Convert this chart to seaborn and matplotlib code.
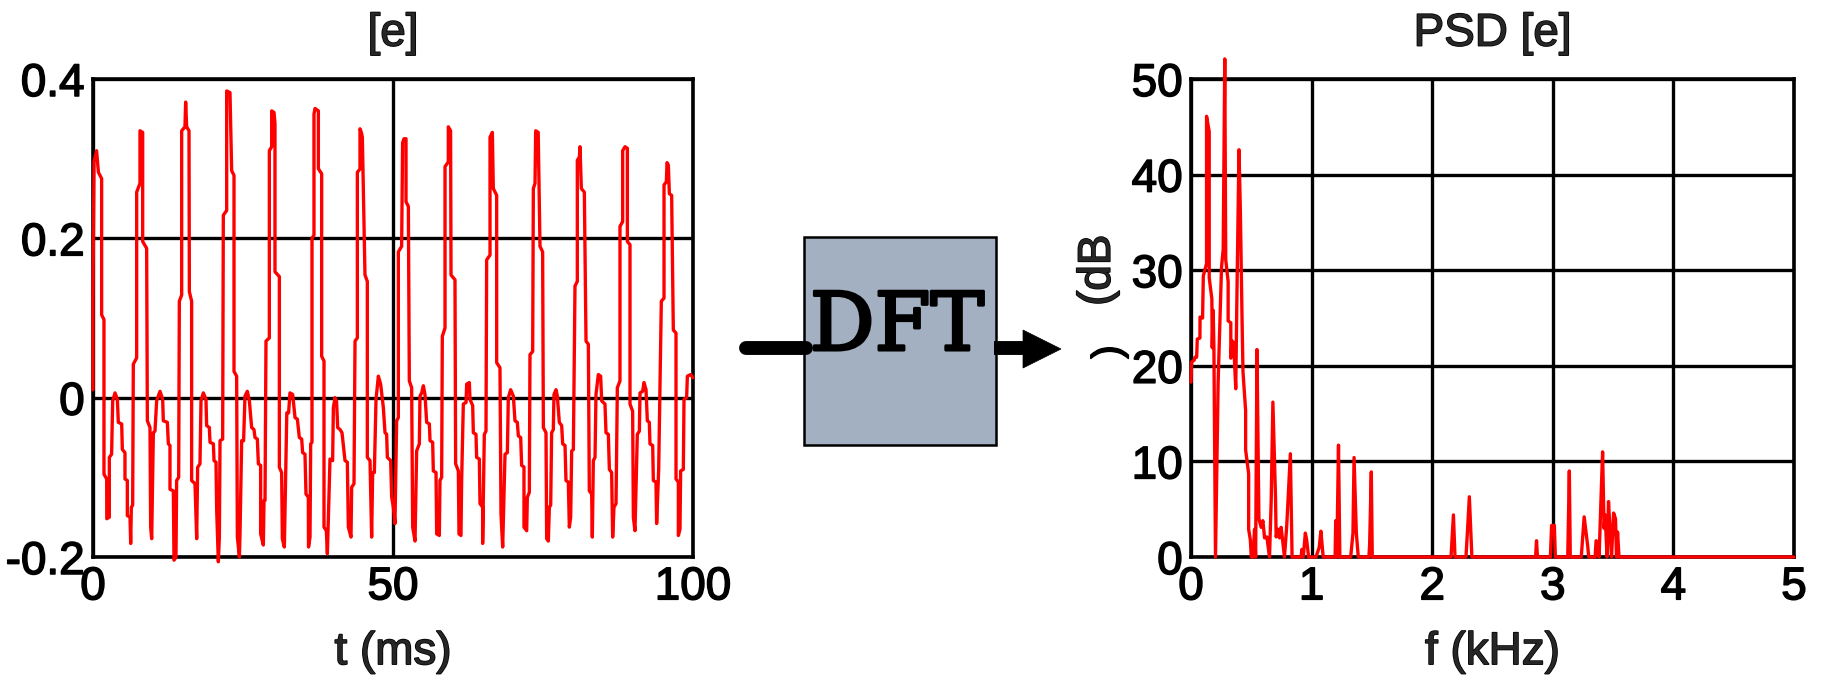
import matplotlib
matplotlib.use("Agg")
import matplotlib.pyplot as plt
import matplotlib.patheffects as pe
from matplotlib.patches import Rectangle, Polygon
import seaborn as sns
import pandas as pd

# ---------------- data ----------------
# time-domain vowel waveform [e]
t_ms = [
    0.0, 0.0, 0.17, 0.6, 0.9, 1.44, 1.44, 1.83, 1.83, 2.28, 2.3, 2.72, 2.72, 3.1, 3.28, 3.67, 4.06, 4.22,
    4.78, 4.89, 5.33, 5.33, 5.72, 5.72, 6.17, 6.28, 6.39, 6.61,
    6.72, 7.28, 7.28, 7.83, 7.83, 8.28, 8.28, 8.94, 9.06, 9.5, 9.61, 9.78, 10.06, 10.33, 10.61, 11.17,
    11.61, 11.72, 12.39, 12.56, 12.83, 12.83, 13.39, 13.5, 13.83, 13.94, 14.28,
    14.39, 14.78, 14.78, 15.33, 15.44, 15.61, 16.0, 16.06, 16.44, 16.44, 17.0, 17.28, 17.44, 17.83, 18.0,
    18.39, 18.83, 18.94, 19.39, 19.5, 20.06, 20.17, 20.5, 20.61, 20.89, 21.06, 21.17, 21.61,
    21.72, 22.28, 22.28, 22.83, 23.11, 23.5, 23.5, 23.94, 24.06, 24.4, 24.5, 24.78, 25.1, 25.33, 25.72,
    26.06, 26.44, 26.83, 27.0, 27.39, 27.56, 27.94, 27.94, 28.39, 28.5, 28.67,
    28.83, 29.39, 29.39, 29.78, 29.78, 30.17, 30.33, 30.33, 31.06, 31.06, 31.44, 31.56, 31.89, 32.3, 32.6,
    32.83, 33.28, 33.67, 34.06, 34.39, 34.78, 34.94, 35.33, 35.5, 35.89, 35.92, 36.17,
    36.28, 36.5, 36.5, 36.83, 36.83, 37.0, 37.56, 37.56, 38.11, 38.11, 38.5, 38.5, 38.89, 39.06, 39.5,
    39.94, 40.06, 40.33, 40.6, 40.78, 41.17, 41.5, 42.0, 42.39, 42.56, 43.0, 43.11, 43.5,
    43.67, 44.06, 44.06, 44.5, 44.5, 44.72, 44.89, 45.33, 45.72, 45.72, 46.17, 46.44, 46.61, 46.89, 47.17,
    47.56, 47.94, 48.39, 48.67, 48.94, 49.06, 49.61, 49.78, 50.06, 50.33,
    50.61, 50.89, 50.89, 51.44, 51.6, 51.83, 52.17, 52.17, 52.56, 52.72, 53.11, 53.28, 53.67, 53.94, 54.39,
    54.5, 54.78, 55.06, 55.33, 55.61, 56.06, 56.17, 56.61, 56.72, 57.17, 57.28, 57.72, 57.83, 58.11,
    58.22, 58.67, 58.67, 59.22, 59.22, 59.6, 59.67, 60.33, 60.44, 60.89, 61.0, 61.33, 61.44, 61.72, 62.17,
    62.28, 62.72, 62.83, 63.28, 63.39, 63.83, 63.94, 64.39, 64.5, 64.94, 64.94, 65.22, 65.5,
    65.61, 66.17, 66.17, 66.56, 66.72, 67.28, 67.28, 67.83, 68.0, 68.28, 68.67, 69.06, 69.22, 69.61, 70.06,
    70.33, 70.72, 70.89, 71.28, 71.44, 71.83, 71.83, 72.28, 72.39, 72.72,
    72.83, 73.28, 73.39, 73.67, 73.78, 74.2, 74.5, 74.94, 75.06, 75.5, 75.61, 75.89, 76.06, 76.28, 76.44,
    76.72, 76.83, 77.17, 77.39, 77.72, 78.11, 78.28, 78.67, 78.83, 79.22, 79.39, 79.61, 79.78, 80.06,
    80.33, 80.72, 80.72, 81.06, 81.17, 81.39, 81.89, 82.17, 82.56, 82.72, 83.11, 83.22, 83.39, 83.67, 83.83,
    84.22, 84.61, 84.78, 85.33, 85.5, 85.89, 86.06, 86.44, 86.61, 86.83, 87.17,
    87.39, 87.83, 87.83, 88.28, 88.28, 88.67, 89.06, 89.06, 89.5, 89.5, 89.94, 90.06, 90.33, 90.72, 91.06,
    91.17, 91.61, 91.83, 92.17, 92.39, 92.72, 92.83, 93.28, 93.39, 93.83, 93.94, 94.28,
    94.72, 95.17, 95.17, 95.56, 95.67, 95.89, 96.06, 96.44, 96.72, 97.17, 97.17, 97.56, 97.56, 97.83, 97.94,
    98.39, 98.5, 98.94, 99.06, 99.61, 100.0,
]
e_amp = [
    0.01, 0.133, 0.296, 0.31, 0.283, 0.275, 0.104, 0.098, -0.096, -0.102, -0.152, -0.15, -0.075, -0.071, -0.004, 0.006, -0.002, -0.031,
    -0.033, -0.065, -0.069, -0.102, -0.104, -0.148, -0.15, -0.183, -0.1375, -0.135,
    0.042, 0.05, 0.258, 0.269, 0.335, 0.333, 0.196, 0.1875, -0.029, -0.0375, -0.1625, -0.177, -0.044, -0.042, -0.004, 0.008,
    -0.002, -0.029, -0.031, -0.058, -0.06, -0.115, -0.117, -0.204, -0.2, -0.104, -0.1,
    0.121, 0.129, 0.335, 0.34, 0.371, 0.34, 0.335, 0.133, 0.121, -0.104, -0.108, -0.177, -0.0875, -0.083, -0.004,
    0.006, -0.002, -0.035, -0.0375, -0.056, -0.058, -0.079, -0.081, -0.14, -0.206, -0.175, -0.054, -0.052,
    0.229, 0.235, 0.385, 0.383, 0.285, 0.279, 0.033, 0.027, -0.175, -0.2, -0.171, -0.054, -0.054, 0.002, 0.008,
    -0.004, -0.0375, -0.04, -0.05, -0.052, -0.083, -0.085, -0.171, -0.185, -0.129, -0.129,
    0.071, 0.075, 0.31, 0.315, 0.36, 0.358, 0.344, 0.158, 0.152, -0.0875, -0.094, -0.177, -0.1875, -0.019, -0.019,
    0.006, 0.004, -0.025, -0.027, -0.05, -0.052, -0.069, -0.071, -0.121, -0.125, -0.1875, -0.175,
    -0.058, -0.056, 0.2, 0.204, 0.356, 0.363, 0.36, 0.2875, 0.281, 0.052, 0.046, -0.1625, -0.167, -0.196, -0.077,
    -0.079, -0.0125, 0.0, -0.005, -0.0375, -0.04, -0.044, -0.079, -0.081, -0.1625, -0.175, -0.1125, -0.108,
    0.071, 0.075, 0.283, 0.287, 0.3375, 0.333, 0.327, 0.154, 0.146, -0.075, -0.079, -0.175, -0.094, -0.094, -0.002,
    0.027, 0.017, -0.0125, -0.044, -0.046, -0.075, -0.079, -0.125, -0.1375, -0.158,
    -0.029, -0.025, 0.183, 0.19, 0.32, 0.325, 0.325, 0.246, 0.24, 0.021, 0.0125, -0.1625, -0.18, -0.067, -0.058,
    0.002, 0.006, 0.015, 0.004, -0.031, -0.033, -0.054, -0.056, -0.092, -0.094, -0.171, -0.173, -0.104, -0.1,
    0.077, 0.0875, 0.29, 0.296, 0.34, 0.335, 0.154, 0.148, -0.083, -0.092, -0.171, -0.173, -0.104, -0.008, -0.006,
    0.017, 0.019, -0.002, -0.01, -0.044, -0.046, -0.075, -0.077, -0.133, -0.1375, -0.183, -0.046, -0.042,
    0.173, 0.179, 0.327, 0.333, 0.2625, 0.254, 0.044, 0.0375, -0.146, -0.1875, -0.071, -0.069, 0.0, 0.01, 0.002,
    -0.029, -0.031, -0.048, -0.05, -0.085, -0.087, -0.1625, -0.167, -0.125, -0.119,
    0.054, 0.058, 0.2625, 0.269, 0.335, 0.333, 0.19, 0.183, -0.0375, -0.044, -0.177, -0.18, -0.1375, -0.135, -0.044,
    -0.04, 0.004, 0.01, 0.002, -0.031, -0.035, -0.058, -0.06, -0.104, -0.106, -0.1625, -0.15, -0.067, -0.065,
    0.14, 0.146, 0.298, 0.302, 0.315, 0.2625, 0.258, 0.071, 0.067, -0.117, -0.121, -0.175, -0.079, -0.075, 0.004,
    0.029, 0.027, -0.004, -0.008, -0.044, -0.046, -0.09, -0.094, -0.175, -0.1375, -0.133,
    0.0125, 0.021, 0.215, 0.221, 0.31, 0.315, 0.313, 0.196, 0.192, -0.008, -0.017, -0.15, -0.167, -0.046, -0.042,
    0.006, 0.008, 0.019, 0.01, -0.029, -0.031, -0.058, -0.06, -0.104, -0.106, -0.158, -0.09,
    0.121, 0.125, 0.267, 0.271, 0.295, 0.292, 0.256, 0.254, 0.085, 0.081, -0.102, -0.106, -0.173, -0.165, -0.092,
    -0.09, -0.002, 0.0, 0.027, 0.029, 0.025,
]

# power spectral density of [e]
f_khz = [
    0, 0.005, 0.027, 0.033, 0.047, 0.052, 0.074, 0.075, 0.096, 0.102,
    0.129, 0.129, 0.151, 0.151, 0.173, 0.176, 0.184, 0.19, 0.203, 0.225,
    0.253, 0.267, 0.28, 0.288, 0.308, 0.308, 0.33, 0.33, 0.341, 0.354,
    0.371, 0.382, 0.398, 0.409, 0.423, 0.431, 0.453, 0.453, 0.478, 0.478,
    0.492, 0.5, 0.514, 0.527, 0.536, 0.547, 0.563, 0.582, 0.596, 0.61,
    0.629, 0.651, 0.665, 0.679, 0.701, 0.706, 0.72, 0.734, 0.747, 0.761,
    0.775, 0.794, 0.824, 0.838, 0.912, 0.92, 0.931, 0.948, 0.959, 0.975,
    1.036, 1.063, 1.077, 1.096, 1.195, 1.2, 1.209, 1.223, 1.234, 1.324,
    1.343, 1.352, 1.371, 1.387, 1.475, 1.481, 1.495, 1.503, 2.156, 2.176,
    2.189, 2.28, 2.292, 2.308, 2.329, 2.857, 2.865, 2.873, 2.98, 2.99,
    3.013, 3.021, 3.124, 3.137, 3.145, 3.236, 3.26, 3.289, 3.298, 3.351,
    3.359, 3.38, 3.384, 3.40, 3.413, 3.425, 3.434, 3.45, 3.462, 3.475,
    3.487, 3.504, 3.52, 3.528, 3.537, 3.549, 5.0,
]
psd_db = [
    18.3, 20.4, 20.6, 20.9, 20.9, 22.8, 22.9, 25.1, 25.0, 29.4,
    30.7, 46.1, 44.5, 29.2, 27.0, 21.9, 25.8, 21.8, 0, 18.3,
    30.3, 32.2, 52.1, 31.1, 28.8, 24.7, 24.5, 20.8, 22.6, 22.4,
    17.6, 28.5, 42.6, 36.4, 25.1, 19.4, 15.3, 11.2, 8.7, 2.9,
    1.8, 0, 0, 2.9, 0, 21.7, 4.0, 3.1, 3.8, 2.0,
    2.1, 0, 5.9, 16.2, 6.1, 2.1, 2.9, 2.0, 3.1, 1.6,
    0, 3.3, 10.8, 0, 0, 0.8, 0, 2.5, 1.8, 0,
    0, 1.0, 2.7, 0, 0, 3.8, 0, 11.7, 0, 0,
    2.5, 10.4, 2.5, 0, 0, 1.2, 8.9, 0, 0, 4.4,
    0, 0, 2.6, 6.3, 0, 0, 1.7, 0, 0, 3.3,
    3.3, 0, 0, 9.0, 0, 0, 4.2, 1.2, 0, 0,
    1.7, 1.5, 0, 6.2, 11.0, 3.0, 4.4, 0, 5.8, 2.6,
    0, 4.6, 4.0, 0, 2.6, 0, 0,
]

wave_xticks = [0, 50, 100]
wave_xticklabels = ["0", "50", "100"]
wave_yticks = [-0.2, 0, 0.2, 0.4]
wave_yticklabels = ["-0.2", "0", "0.2", "0.4"]
psd_xticks = [0, 1, 2, 3, 4, 5]
psd_yticks = [0, 10, 20, 30, 40, 50]

wave_df = pd.DataFrame({"t": t_ms, "e": e_amp})
psd_df = pd.DataFrame({"f": f_khz, "db": psd_db})

# ---------------- style ----------------
sns.set_style("white")
plt.rcParams["font.family"] = ["Liberation Sans", "DejaVu Sans"]
plt.rcParams["axes.unicode_minus"] = False

FS = 33
RED = "#ff0000"
HEAVY = [pe.withStroke(linewidth=1.1, foreground="black")]

fig = plt.figure(figsize=(18.27, 6.78), dpi=100)
ax1 = fig.add_axes([93 / 1827, 1 - 557 / 678, 600 / 1827, 478 / 678])
ax2 = fig.add_axes([1191 / 1827, 1 - 557 / 678, 603 / 1827, 478 / 678])

sns.lineplot(data=wave_df, x="t", y="e", ax=ax1, color=RED, lw=2.4,
             estimator=None, sort=False, errorbar=None, clip_on=False, zorder=4)
sns.lineplot(data=psd_df, x="f", y="db", ax=ax2, color=RED, lw=2.4,
             estimator=None, sort=False, errorbar=None, clip_on=False, zorder=4)

ax1.set_xlim(0, 100)
ax1.set_ylim(-0.2, 0.4)
ax1.set_xticks(wave_xticks)
ax1.set_xticklabels(wave_xticklabels)
ax1.set_yticks(wave_yticks)
ax1.set_yticklabels(wave_yticklabels)
ax1.set_title("[e]", fontsize=FS, pad=24, path_effects=HEAVY)
ax1.set_xlabel("t (ms)", fontsize=FS, labelpad=15, path_effects=HEAVY)
ax1.set_ylabel("")

ax2.set_xlim(0, 5)
ax2.set_ylim(0, 50)
ax2.set_xticks(psd_xticks)
ax2.set_yticks(psd_yticks)
ax2.set_title("PSD [e]", fontsize=FS, pad=24, path_effects=HEAVY)
ax2.set_xlabel("f (kHz)", fontsize=FS, labelpad=15, path_effects=HEAVY)
ax2.set_ylabel("(dB", fontsize=FS, path_effects=HEAVY)
ax2.yaxis.set_label_coords(-0.118, 0.60)

for ax in (ax1, ax2):
    ax.grid(True, color="black", lw=2.4)
    ax.set_axisbelow(True)
    ax.tick_params(length=0, labelsize=FS, pad=6, colors="black")
    for lab in ax.get_xticklabels() + ax.get_yticklabels():
        lab.set_path_effects(HEAVY)
    for s in ax.spines.values():
        s.set_color("black")
        s.set_linewidth(2.6)

# ---------------- DFT block diagram (pixel overlay) ----------------
ov = fig.add_axes([0, 0, 1, 1], zorder=-1)
ov.set_xlim(0, 1827)
ov.set_ylim(678, 0)
ov.axis("off")
ov.patch.set_alpha(0)

ov.plot([746, 806], [348, 348], color="black", lw=10, solid_capstyle="round")
ov.plot([994, 1026], [348, 348], color="black", lw=10, solid_capstyle="butt")
ov.add_patch(Polygon([(1023, 330), (1061, 349), (1023, 368)], closed=True,
                     fc="black", ec="black", lw=0.5))
ov.add_patch(Rectangle((804, 237), 192, 208, fc="#a2b0c2", ec="black", lw=1.8))
ov.text(897, 350, "DFT", family="DejaVu Serif", fontsize=58, ha="center",
        va="baseline", color="black",
        path_effects=[pe.withStroke(linewidth=2.2, foreground="black")])
ov.text(1109, 352, ")", fontsize=29, rotation=90, ha="center", va="center",
        color="black", path_effects=HEAVY)

fig.savefig("out.png", dpi=100)
